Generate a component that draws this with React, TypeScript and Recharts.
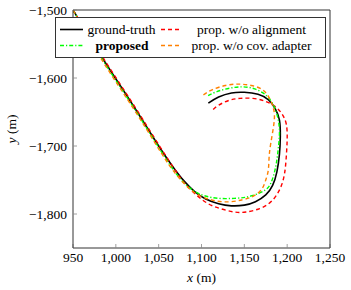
import React from 'react';
import { LineChart, Line, XAxis, YAxis, Label } from 'recharts';

const xTicks = [950, 1000, 1050, 1100, 1150, 1200, 1250];
const yTicks = [-1800, -1700, -1600, -1500];
const xDomain = [950, 1250];
const yDomain = [-1850, -1500];

const groundTruth = [
  { x: 950, y: -1500 }, { x: 985, y: -1572 }, { x: 1020, y: -1640 }, { x: 1050, y: -1700 },
  { x: 1068, y: -1733 }, { x: 1080, y: -1752 }, { x: 1092, y: -1767 }, { x: 1105, y: -1778 },
  { x: 1120, y: -1785 }, { x: 1135, y: -1788 }, { x: 1150, y: -1787 }, { x: 1163, y: -1782 },
  { x: 1175, y: -1772 }, { x: 1183, y: -1758 }, { x: 1188, y: -1738 }, { x: 1191, y: -1712 },
  { x: 1192, y: -1686 }, { x: 1191, y: -1662 }, { x: 1186, y: -1645 }, { x: 1178, y: -1632 },
  { x: 1166, y: -1624 }, { x: 1150, y: -1621 }, { x: 1135, y: -1622 }, { x: 1120, y: -1628 },
  { x: 1108, y: -1637 },
];

const withoutAlignment = [
  { x: 950, y: -1500 }, { x: 986, y: -1572 }, { x: 1021, y: -1640 }, { x: 1051, y: -1700 },
  { x: 1068, y: -1733 }, { x: 1080, y: -1754 }, { x: 1094, y: -1772 }, { x: 1108, y: -1785 },
  { x: 1122, y: -1792 }, { x: 1138, y: -1797 }, { x: 1152, y: -1797 }, { x: 1168, y: -1792 },
  { x: 1182, y: -1781 }, { x: 1192, y: -1762 }, { x: 1197, y: -1740 }, { x: 1199, y: -1715 },
  { x: 1200, y: -1690 }, { x: 1199, y: -1668 }, { x: 1194, y: -1653 }, { x: 1186, y: -1642 },
  { x: 1174, y: -1634 }, { x: 1160, y: -1630 }, { x: 1145, y: -1630 }, { x: 1132, y: -1633 },
  { x: 1120, y: -1640 }, { x: 1113, y: -1647 },
];

const proposed = [
  { x: 950, y: -1500 }, { x: 984, y: -1572 }, { x: 1019, y: -1640 }, { x: 1049, y: -1700 },
  { x: 1066, y: -1733 }, { x: 1078, y: -1752 }, { x: 1090, y: -1765 }, { x: 1103, y: -1773 },
  { x: 1120, y: -1777 }, { x: 1138, y: -1777 }, { x: 1153, y: -1775 }, { x: 1166, y: -1770 },
  { x: 1177, y: -1762 }, { x: 1183, y: -1748 }, { x: 1187, y: -1728 }, { x: 1189.5, y: -1705 },
  { x: 1191, y: -1680 }, { x: 1189, y: -1658 }, { x: 1184, y: -1640 }, { x: 1175, y: -1625 },
  { x: 1162, y: -1616 }, { x: 1148, y: -1613 }, { x: 1133, y: -1615 }, { x: 1118, y: -1620 },
  { x: 1106, y: -1627 },
];

const withoutCovAdapter = [
  { x: 950, y: -1500 }, { x: 983, y: -1572 }, { x: 1018, y: -1640 }, { x: 1048, y: -1700 },
  { x: 1065, y: -1733 }, { x: 1078, y: -1753 }, { x: 1090, y: -1767 }, { x: 1103, y: -1776 },
  { x: 1118, y: -1781 }, { x: 1133, y: -1782 }, { x: 1148, y: -1779 }, { x: 1160, y: -1774 },
  { x: 1170, y: -1764 }, { x: 1175, y: -1750 }, { x: 1178, y: -1735 }, { x: 1179, y: -1715 },
  { x: 1181, y: -1695 }, { x: 1184, y: -1672 }, { x: 1185, y: -1652 }, { x: 1181, y: -1634 },
  { x: 1172, y: -1618 }, { x: 1158, y: -1611 }, { x: 1143, y: -1609 }, { x: 1128, y: -1611 },
  { x: 1113, y: -1617 }, { x: 1102, y: -1625 },
];

const FONT = '"Liberation Serif", "Times New Roman", serif';
const FRAME = '#333';
const TICK = '#888';

const fmt = (n: number) => (n < 0 ? '\u2212' : '') + Math.abs(n).toLocaleString('en-US');

const XLabel = (props: any) => {
  const vb = props.viewBox || { x: 73, y: 248, width: 257, height: 42 };
  return (
    <text x={vb.x + vb.width / 2} y={282} textAnchor="middle" fontFamily={FONT} fontSize={13.5} fill="#000">
      <tspan fontStyle="italic">x</tspan> (m)
    </text>
  );
};

const YLabel = (props: any) => {
  const vb = props.viewBox || { x: 0, y: 10, width: 73, height: 238 };
  const cy = vb.y + vb.height / 2;
  return (
    <text x={16} y={cy} transform={`rotate(-90 16 ${cy})`} textAnchor="middle" fontFamily={FONT} fontSize={13.5} fill="#000">
      <tspan fontStyle="italic">y</tspan> (m)
    </text>
  );
};

const LegendBox = () => (
  <svg
    width={271}
    height={41}
    style={{ position: 'absolute', left: 55, top: 17 }}
  >
    <rect x={0.5} y={0.5} width={270} height={40} fill="#fff" stroke={FRAME} strokeWidth={1} />
    <line x1={5} x2={28} y1={12.5} y2={12.5} stroke="#000" strokeWidth={1.6} />
    <text x={66.5} y={17} textAnchor="middle" fontFamily={FONT} fontSize={13.5}>ground-truth</text>
    <line x1={106} x2={127} y1={12.5} y2={12.5} stroke="#ff0000" strokeWidth={1.4} strokeDasharray="4 3" />
    <text x={196.5} y={17} textAnchor="middle" fontFamily={FONT} fontSize={13.5}>prop. w/o alignment</text>
    <line x1={5} x2={28} y1={28.5} y2={28.5} stroke="#00ff00" strokeWidth={1.4} strokeDasharray="4 2 1.2 2" />
    <text x={67} y={33} textAnchor="middle" fontFamily={FONT} fontSize={13.5} fontWeight="bold">proposed</text>
    <line x1={106} x2={127} y1={28.5} y2={28.5} stroke="#ff8000" strokeWidth={1.4} strokeDasharray="4 3" />
    <text x={196.5} y={33} textAnchor="middle" fontFamily={FONT} fontSize={13.5}>prop. w/o cov. adapter</text>
  </svg>
);

export default function App() {
  const tickStyle = { fontFamily: FONT, fontSize: 13.5, fill: '#000' };
  return (
    <div style={{ position: 'absolute', left: 0, top: 0, width: 351, height: 290, background: '#fff' }}>
      <LineChart width={351} height={290} margin={{ top: 9, right: 20, bottom: 0, left: 0 }}>
        <XAxis
          xAxisId="bottom"
          type="number"
          dataKey="x"
          domain={xDomain}
          ticks={xTicks}
          allowDataOverflow
          height={42}
          tickFormatter={fmt}
          tick={tickStyle}
          tickSize={-4}
          tickMargin={8}
          axisLine={{ stroke: FRAME, strokeWidth: 1 }}
          tickLine={{ stroke: TICK, strokeWidth: 0.8 }}
          interval={0}
        >
          <Label content={XLabel} />
        </XAxis>
        <XAxis
          xAxisId="top"
          orientation="top"
          type="number"
          dataKey="x"
          domain={xDomain}
          ticks={xTicks}
          allowDataOverflow
          height={1}
          tick={false}
          tickSize={-4}
          axisLine={{ stroke: FRAME, strokeWidth: 1 }}
          tickLine={{ stroke: TICK, strokeWidth: 0.8 }}
          interval={0}
        />
        <YAxis
          yAxisId="left"
          type="number"
          dataKey="y"
          domain={yDomain}
          ticks={yTicks}
          allowDataOverflow
          width={73}
          tickFormatter={fmt}
          tick={tickStyle}
          tickSize={-4}
          tickMargin={10}
          axisLine={{ stroke: FRAME, strokeWidth: 1 }}
          tickLine={{ stroke: TICK, strokeWidth: 0.8 }}
          interval={0}
        >
          <Label content={YLabel} />
        </YAxis>
        <YAxis
          yAxisId="right"
          orientation="right"
          type="number"
          dataKey="y"
          domain={yDomain}
          ticks={yTicks}
          allowDataOverflow
          width={1}
          tick={false}
          tickSize={-4}
          axisLine={{ stroke: FRAME, strokeWidth: 1 }}
          tickLine={{ stroke: TICK, strokeWidth: 0.8 }}
          interval={0}
        />
        <Line xAxisId="top" yAxisId="right" data={groundTruth} dataKey="y" type="linear" stroke="none" strokeWidth={0} dot={false} activeDot={false} legendType="none" isAnimationActive={false} />
        <Line xAxisId="bottom" yAxisId="left" data={groundTruth} dataKey="y" type="natural" stroke="#000" strokeWidth={1.6} dot={false} isAnimationActive={false} />
        <Line xAxisId="bottom" yAxisId="left" data={withoutAlignment} dataKey="y" type="natural" stroke="#ff0000" strokeWidth={1.4} strokeDasharray="4 3" dot={false} isAnimationActive={false} />
        <Line xAxisId="bottom" yAxisId="left" data={proposed} dataKey="y" type="natural" stroke="#00ff00" strokeWidth={1.4} strokeDasharray="4 2 1.2 2" dot={false} isAnimationActive={false} />
        <Line xAxisId="bottom" yAxisId="left" data={withoutCovAdapter} dataKey="y" type="natural" stroke="#ff8000" strokeWidth={1.4} strokeDasharray="4 3" dot={false} isAnimationActive={false} />
      </LineChart>
      <LegendBox />
    </div>
  );
}
